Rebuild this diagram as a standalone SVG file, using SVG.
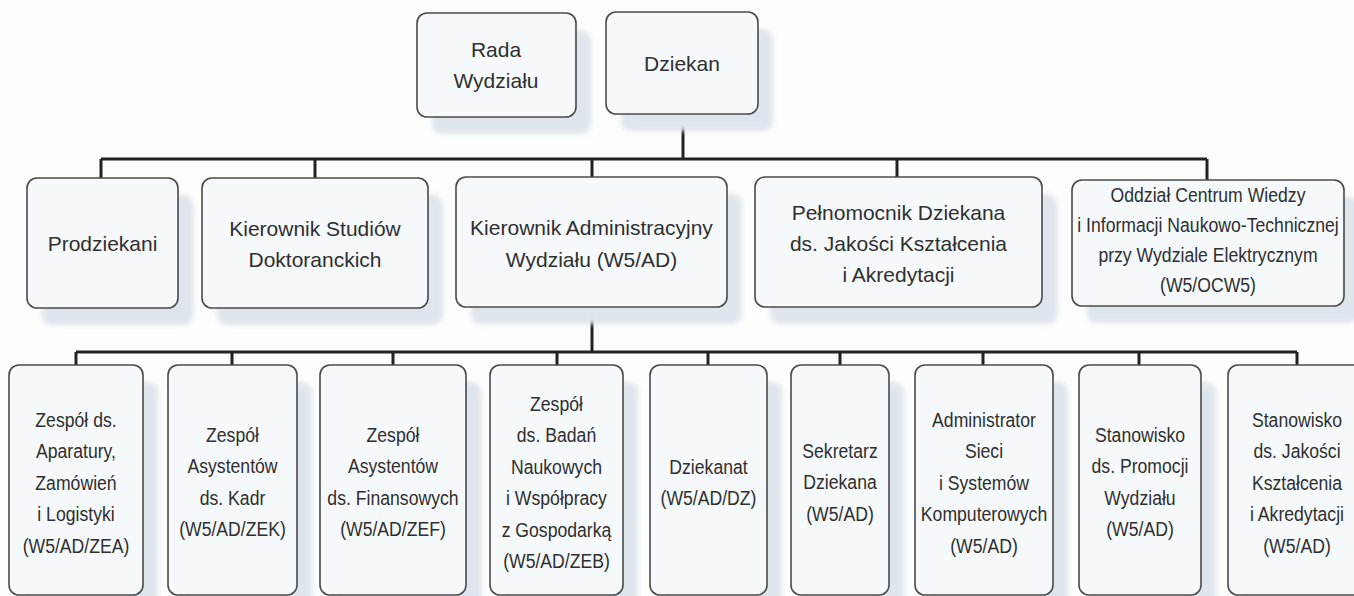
<svg xmlns="http://www.w3.org/2000/svg" width="1354" height="596" viewBox="0 0 1354 596">
<defs>
<filter id="blur" x="-10%" y="-10%" width="120%" height="120%"><feGaussianBlur stdDeviation="2.5"/></filter>
<style>
.bg{fill:#fcfdfd}
.sh{fill:#dfe5ec;filter:url(#blur)}
.box{fill:#f6f9fb;stroke:#4a4a4a;stroke-width:1.6}
.t{font-family:"Liberation Sans",Arial,sans-serif;font-size:21px;fill:#2f2f2f;text-anchor:middle}
.c{stroke:#222;stroke-width:3;fill:none}
</style>
</defs>
<rect class="bg" x="0" y="0" width="1354" height="596"/>

<g id="connectors">
<path class="c" d="M683 114 V159 M101 159 H1207 M101 159 V178 M315 159 V178 M592 159 V177 M897 159 V177 M1207 159 V180"/>
<path class="c" d="M592 307 V352 M76 352 H1297 M76 352 V365 M232 352 V365 M393 352 V365 M557 352 V365 M708 352 V365 M840 352 V365 M983 352 V365 M1139 352 V365 M1297 352 V365"/>
</g>

<g id="rada">
<rect class="sh" x="432" y="30" width="159" height="104" rx="10"/>
<rect class="box" x="417" y="13" width="159" height="104" rx="10"/>
<text class="t" x="496" y="57">Rada</text>
<text class="t" x="496" y="88">Wydziału</text>
</g>
<g id="dziekan">
<rect class="sh" x="621" y="29" width="152" height="102" rx="10"/>
<rect class="box" x="606" y="12" width="152" height="102" rx="10"/>
<text class="t" x="682" y="71">Dziekan</text>
</g>

<g id="prodziekani">
<rect class="sh" x="42" y="195" width="151" height="130" rx="10"/>
<rect class="box" x="27" y="178" width="151" height="130" rx="10"/>
<text class="t" x="102.5" y="251">Prodziekani</text>
</g>
<g id="ksd">
<rect class="sh" x="217" y="195" width="226" height="130" rx="10"/>
<rect class="box" x="202" y="178" width="226" height="130" rx="10"/>
<text class="t" x="315" y="236">Kierownik Studiów</text>
<text class="t" x="315" y="267">Doktoranckich</text>
</g>
<g id="ka">
<rect class="sh" x="471" y="194" width="271" height="130" rx="10"/>
<rect class="box" x="456" y="177" width="271" height="130" rx="10"/>
<text class="t" x="591.5" y="235">Kierownik Administracyjny</text>
<text class="t" x="591.5" y="267">Wydziału (W5/AD)</text>
</g>
<g id="pelnomocnik">
<rect class="sh" x="770" y="194" width="287" height="130" rx="10"/>
<rect class="box" x="755" y="177" width="287" height="130" rx="10"/>
<text class="t" x="898.5" y="220">Pełnomocnik Dziekana</text>
<text class="t" x="898.5" y="251">ds. Jakości Kształcenia</text>
<text class="t" x="898.5" y="282">i Akredytacji</text>
</g>
<g id="oddzial">
<rect class="sh" x="1087" y="197" width="272" height="126" rx="10"/>
<rect class="box" x="1072" y="180" width="272" height="126" rx="10"/>
<g transform="translate(1208 0) scale(0.84 1)">
<text class="t" x="0" y="202">Oddział Centrum Wiedzy</text>
<text class="t" x="0" y="232">i Informacji Naukowo-Technicznej</text>
<text class="t" x="0" y="262">przy Wydziale Elektrycznym</text>
<text class="t" x="0" y="292">(W5/OCW5)</text>
</g>
</g>

<g id="zea">
<rect class="sh" x="24" y="382" width="134" height="230" rx="10"/>
<rect class="box" x="9" y="365" width="134" height="230" rx="10"/>
<g transform="translate(76 0) scale(0.84 1)">
<text class="t" x="0" y="427">Zespół ds.</text>
<text class="t" x="0" y="458.5">Aparatury,</text>
<text class="t" x="0" y="490">Zamówień</text>
<text class="t" x="0" y="521.5">i Logistyki</text>
<text class="t" x="0" y="553">(W5/AD/ZEA)</text>
</g>
</g>
<g id="zek">
<rect class="sh" x="183" y="382" width="129" height="230" rx="10"/>
<rect class="box" x="168" y="365" width="129" height="230" rx="10"/>
<g transform="translate(232.5 0) scale(0.84 1)">
<text class="t" x="0" y="442">Zespół</text>
<text class="t" x="0" y="473.5">Asystentów</text>
<text class="t" x="0" y="505">ds. Kadr</text>
<text class="t" x="0" y="536.5">(W5/AD/ZEK)</text>
</g>
</g>
<g id="zef">
<rect class="sh" x="335" y="382" width="146" height="230" rx="10"/>
<rect class="box" x="320" y="365" width="146" height="230" rx="10"/>
<g transform="translate(393 0) scale(0.84 1)">
<text class="t" x="0" y="442">Zespół</text>
<text class="t" x="0" y="473.5">Asystentów</text>
<text class="t" x="0" y="505">ds. Finansowych</text>
<text class="t" x="0" y="536.5">(W5/AD/ZEF)</text>
</g>
</g>
<g id="zeb">
<rect class="sh" x="505" y="382" width="133" height="230" rx="10"/>
<rect class="box" x="490" y="365" width="133" height="230" rx="10"/>
<g transform="translate(556.5 0) scale(0.84 1)">
<text class="t" x="0" y="411">Zespół</text>
<text class="t" x="0" y="442.5">ds. Badań</text>
<text class="t" x="0" y="474">Naukowych</text>
<text class="t" x="0" y="505.5">i Współpracy</text>
<text class="t" x="0" y="537">z Gospodarką</text>
<text class="t" x="0" y="568.5">(W5/AD/ZEB)</text>
</g>
</g>
<g id="dz">
<rect class="sh" x="665" y="382" width="117" height="230" rx="10"/>
<rect class="box" x="650" y="365" width="117" height="230" rx="10"/>
<g transform="translate(708.5 0) scale(0.84 1)">
<text class="t" x="0" y="474">Dziekanat</text>
<text class="t" x="0" y="505.5">(W5/AD/DZ)</text>
</g>
</g>
<g id="sekretarz">
<rect class="sh" x="806" y="382" width="98" height="230" rx="10"/>
<rect class="box" x="791" y="365" width="98" height="230" rx="10"/>
<g transform="translate(840 0) scale(0.84 1)">
<text class="t" x="0" y="458">Sekretarz</text>
<text class="t" x="0" y="489.5">Dziekana</text>
<text class="t" x="0" y="521">(W5/AD)</text>
</g>
</g>
<g id="admin">
<rect class="sh" x="930" y="382" width="138" height="230" rx="10"/>
<rect class="box" x="915" y="365" width="138" height="230" rx="10"/>
<g transform="translate(984 0) scale(0.84 1)">
<text class="t" x="0" y="427">Administrator</text>
<text class="t" x="0" y="458.5">Sieci</text>
<text class="t" x="0" y="490">i Systemów</text>
<text class="t" x="0" y="521.5">Komputerowych</text>
<text class="t" x="0" y="553">(W5/AD)</text>
</g>
</g>
<g id="promocja">
<rect class="sh" x="1094" y="382" width="122" height="230" rx="10"/>
<rect class="box" x="1079" y="365" width="122" height="230" rx="10"/>
<g transform="translate(1140 0) scale(0.84 1)">
<text class="t" x="0" y="442">Stanowisko</text>
<text class="t" x="0" y="473.5">ds. Promocji</text>
<text class="t" x="0" y="505">Wydziału</text>
<text class="t" x="0" y="536.5">(W5/AD)</text>
</g>
</g>
<g id="jakosc">
<rect class="sh" x="1243" y="382" width="138" height="230" rx="10"/>
<rect class="box" x="1228" y="365" width="138" height="230" rx="10"/>
<g transform="translate(1297 0) scale(0.84 1)">
<text class="t" x="0" y="427">Stanowisko</text>
<text class="t" x="0" y="458.5">ds. Jakości</text>
<text class="t" x="0" y="490">Kształcenia</text>
<text class="t" x="0" y="521.5">i Akredytacji</text>
<text class="t" x="0" y="553">(W5/AD)</text>
</g>
</g>
</svg>
